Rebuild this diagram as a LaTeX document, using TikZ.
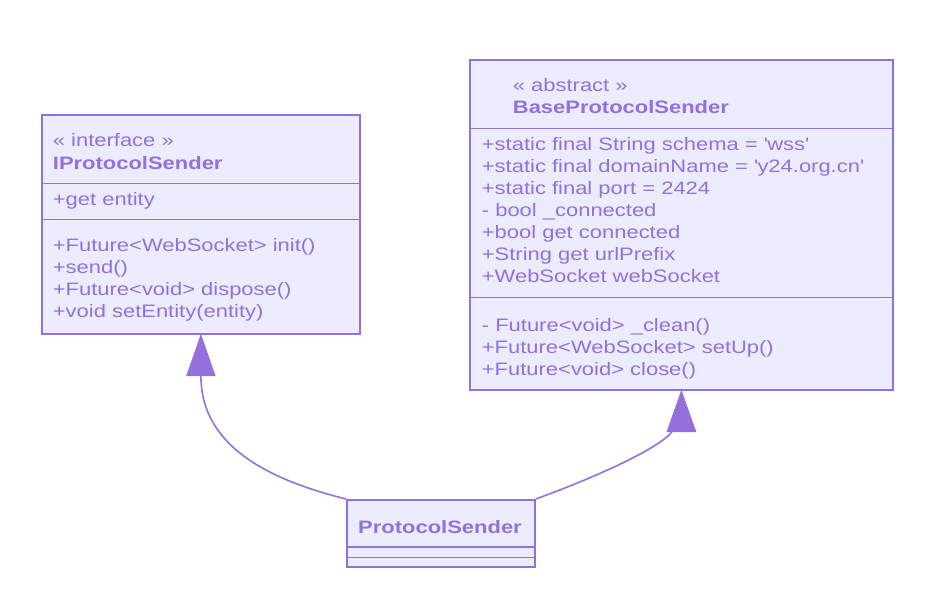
\documentclass[tikz,border=0pt]{standalone}
\usepackage{fontspec}
\setmainfont{Liberation Sans}[FakeStretch=1.22]
\usetikzlibrary{calc}
\definecolor{umlfill}{HTML}{ECECFF}
\definecolor{umlline}{HTML}{9370DB}
\tikzset{
  umlbox/.style={draw=umlline, fill=umlfill, line width=1.8pt, inner sep=0pt, anchor=north west},
  divline/.style={draw=umlline, line width=1.6pt},
  txt/.style={anchor=base west, inner sep=0pt, text=umlline, font=\fontsize{18pt}{22pt}\selectfont},
  btxt/.style={txt, font=\fontsize{18pt}{22pt}\selectfont\bfseries},
  conn/.style={draw=umlline, line width=1.6pt},
  headtri/.style={fill=umlline, draw=umlline, line width=0.6pt, line join=miter}
}
\begin{document}
\begin{tikzpicture}[x=1pt,y=-1pt]
\useasboundingbox (0,0) rectangle (935,607);

% boxes
\node[umlbox, minimum width=318pt, minimum height=219pt] (ips) at (41,114) {};
\node[umlbox, minimum width=423pt, minimum height=330pt] (bps) at (469,59) {};
\node[umlbox, minimum width=188pt, minimum height=67pt] (ps) at (346,499) {};

% dividers
\draw[divline] ($(ips.north west)+(0,69.5)$) -- ($(ips.north east)+(0,69.5)$);
\draw[divline] ($(ips.north west)+(0,105.3)$) -- ($(ips.north east)+(0,105.3)$);
\draw[divline] ($(bps.north west)+(0,69.7)$) -- ($(bps.north east)+(0,69.7)$);
\draw[divline] ($(bps.north west)+(0,238.3)$) -- ($(bps.north east)+(0,238.3)$);
\draw[divline] ($(ps.north west)+(0,47.7)$) -- ($(ps.north east)+(0,47.7)$);
\draw[divline] ($(ps.north west)+(0,58.3)$) -- ($(ps.north east)+(0,58.3)$);

% IProtocolSender texts
\node[txt] (ipsst) at (52.7,147) {« interface »};
\node[btxt] (ipsname) at (52.7,169.7) {IProtocolSender};
\node[txt] (ipsa1) at (52.7,206) {+get entity};
\node[txt] (ipsm1) at (52.7,251.7) {+Future<WebSocket> init()};
\node[txt] (ipsm2) at (52.7,273.7) {+send()};
\node[txt] (ipsm3) at (52.7,295.7) {+Future<void> dispose()};
\node[txt] (ipsm4) at (52.7,317.7) {+void setEntity(entity)};

% BaseProtocolSender texts
\node[txt] (bpsst) at (512.7,91.7) {« abstract »};
\node[btxt] (bpsname) at (512.7,114) {BaseProtocolSender};
\node[txt] (bpsa1) at (481.7,150.7) {+static final String schema = \textquotesingle wss\textquotesingle};
\node[txt] (bpsa2) at (481.7,172.7) {+static final domainName = \textquotesingle y24.org.cn\textquotesingle};
\node[txt] (bpsa3) at (481.7,194.7) {+static final port = 2424};
\node[txt] (bpsa4) at (481.7,216.7) {- bool \_connected};
\node[txt] (bpsa5) at (481.7,238.7) {+bool get connected};
\node[txt] (bpsa6) at (481.7,260.7) {+String get urlPrefix};
\node[txt] (bpsa7) at (481.7,282.7) {+WebSocket webSocket};
\node[txt] (bpsm1) at (481.7,331) {- Future<void> \_clean()};
\node[txt] (bpsm2) at (481.7,353) {+Future<WebSocket> setUp()};
\node[txt] (bpsm3) at (481.7,375) {+Future<void> close()};

% ProtocolSender text
\node[btxt, anchor=base] (psname) at (440,533.3) {ProtocolSender};

% inheritance connectors
\coordinate (tl) at ($(ips.south)+(0,41)$);
\coordinate (tr) at ($(bps.south)+(-9.5,41)$);
\draw[conn] (tl) .. controls +(0,71) and +(-76,-19) .. (ps.north west);
\draw[conn] (tr) .. controls +(-11,15) and +(66,-24) .. (ps.north east);
\fill[headtri] (ips.south) -- ++(-14.3,41) -- ++(28.6,0) -- cycle;
\fill[headtri] (bps.south) -- ++(-14.5,41) -- ++(29,0) -- cycle;
\end{tikzpicture}
\end{document}
